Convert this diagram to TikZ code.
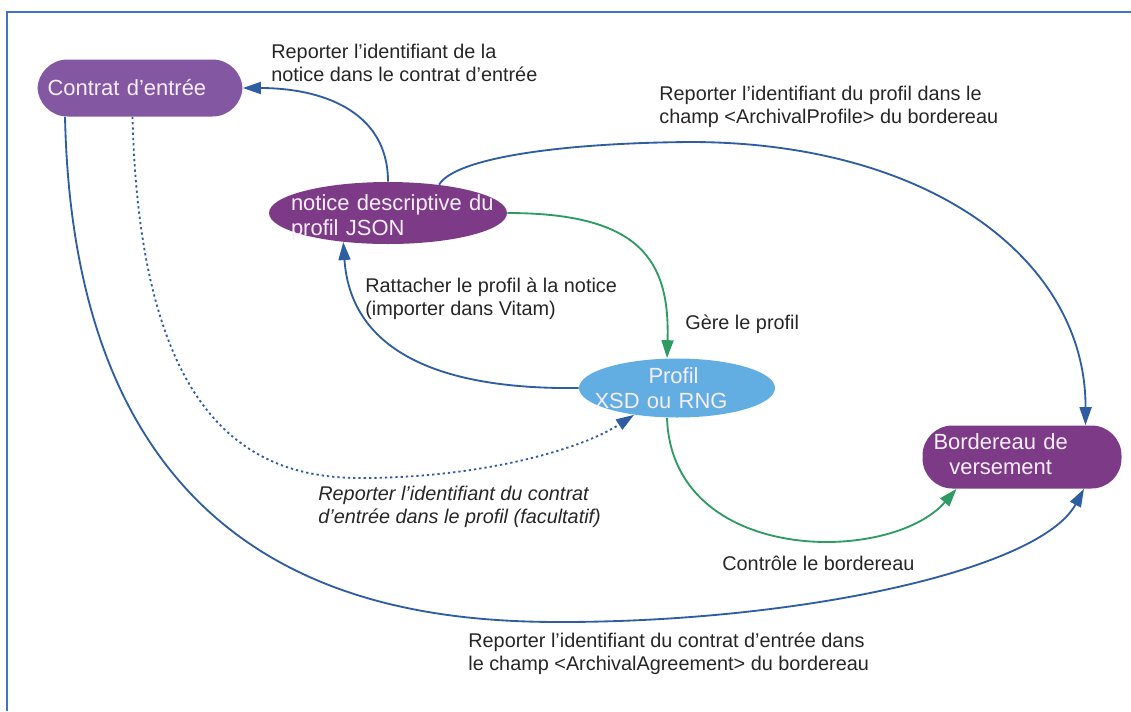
\documentclass[tikz,border=0pt]{standalone}
\usepackage{fontspec}
\setmainfont{Liberation Sans}
\usetikzlibrary{arrows.meta,shapes.geometric}
\definecolor{contratviolet}{RGB}{132,87,163}
\definecolor{darkviolet}{RGB}{125,58,135}
\definecolor{profilblue}{RGB}{98,173,226}
\definecolor{linkblue}{RGB}{47,93,162}
\definecolor{linkgreen}{RGB}{46,155,98}
\definecolor{framecol}{RGB}{68,114,196}
\definecolor{nodetext}{RGB}{246,238,248}
\tikzset{
    blocktext/.style={font=\fontsize{12.5}{14.5}\selectfont, text=nodetext},
    pill/.style={blocktext, draw=none, rectangle, rounded corners=0.6cm, align=left, inner ysep=0pt},
    oval/.style={blocktext, draw=none, ellipse, inner xsep=-0.5cm, inner ysep=-0.3cm},
    edgetext/.style={font=\fontsize{11.3}{13}\selectfont, text=black!85, align=left, inner sep=0pt, anchor=west},
    link/.style={line width=1.05pt, -{Triangle[length=0.36cm,width=0.24cm]}},
    bluelink/.style={link, draw=linkblue, fill=none},
    greenlink/.style={link, draw=linkgreen, fill=none},
}

\begin{document}
\begin{tikzpicture}[x=0.02cm, y=-0.02cm]
    \useasboundingbox (0,0) rectangle (1131,711);
    \draw[framecol, line width=0.7pt] (7,711) -- (7,12) -- (1131,12);

    % les quatre objets
    \node[pill, fill=contratviolet, minimum width=4.1cm, minimum height=1.14cm, text width=3.7cm, inner xsep=0.2cm] (contrat) at (140,88) {Contrat d’entrée};
    \node[oval, fill=darkviolet, minimum width=4.76cm, minimum height=1.24cm, text width=4.3cm, align=left] (notice) at (388,213) {\rule{0pt}{0.5cm}\hspace*{0.21cm}notice descriptive du\\\hspace*{0.21cm}profil JSON};
    \node[oval, fill=profilblue, minimum width=3.92cm, minimum height=1.18cm, text width=3.3cm, align=left] (profil) at (677,388) {\hspace*{1.08cm}Profil\\XSD ou RNG};
    \node[pill, fill=darkviolet, minimum width=3.98cm, minimum height=1.26cm, text width=3.54cm, inner xsep=0.22cm] (bordereau) at (1022,457) {\begin{tabular}{@{}c@{}}Bordereau de\\versement\end{tabular}};

    % les textes des liens
    \node[edgetext] (lblnotice) at (271,63) {Reporter l’identifiant de la\\notice dans le contrat d’entrée};
    \node[edgetext] (lblprofil) at (659,107) {Reporter l’identifiant du profil dans le\\champ <ArchivalProfile> du bordereau};
    \node[edgetext] (lblgere) at (685,324) {Gère le profil};
    \node[edgetext] (lblrattacher) at (365,299) {Rattacher le profil à la notice\\(importer dans Vitam)};
    \node[edgetext, font=\fontsize{11.3}{13}\selectfont\itshape] (lblfacultatif) at (318,507) {Reporter l’identifiant du contrat\\d’entrée dans le profil (facultatif)};
    \node[edgetext] (lblcontrole) at (722,563) {Contrôle le bordereau};
    \node[edgetext] (lblagreement) at (468,654) {Reporter l’identifiant du contrat d’entrée dans\\le champ <ArchivalAgreement> du bordereau};

    % les liens
    \draw[bluelink] (notice.north) .. controls (388,110) and (320,88) .. (contrat.east);
    \draw[bluelink] (notice.29) .. controls (455,158) and (560,143) .. (690,142) .. controls (930,142) and (1086,260) .. ([xshift=1.27cm]bordereau.north);
    \draw[greenlink] (notice.east) .. controls (640,213) and (670,260) .. ([xshift=-0.2cm]profil.north);
    \draw[bluelink] (profil.west) .. controls (420,390) and (350,340) .. (notice.-147);
    \draw[greenlink] ([xshift=-0.2cm]profil.south) .. controls (672,565) and (890,565) .. ([xshift=-1.31cm]bordereau.south);
    \draw[bluelink, dash pattern=on 1.3pt off 1.7pt] ([xshift=-0.15cm]contrat.south) .. controls (140,420) and (250,478) .. (360,478) .. controls (480,478) and (580,450) .. (profil.-148);
    \draw[bluelink] ([xshift=-1.5cm]contrat.south) .. controls (75,580) and (380,622) .. (560,622) .. controls (800,622) and (1040,570) .. ([xshift=1.24cm]bordereau.south);
\end{tikzpicture}
\end{document}
